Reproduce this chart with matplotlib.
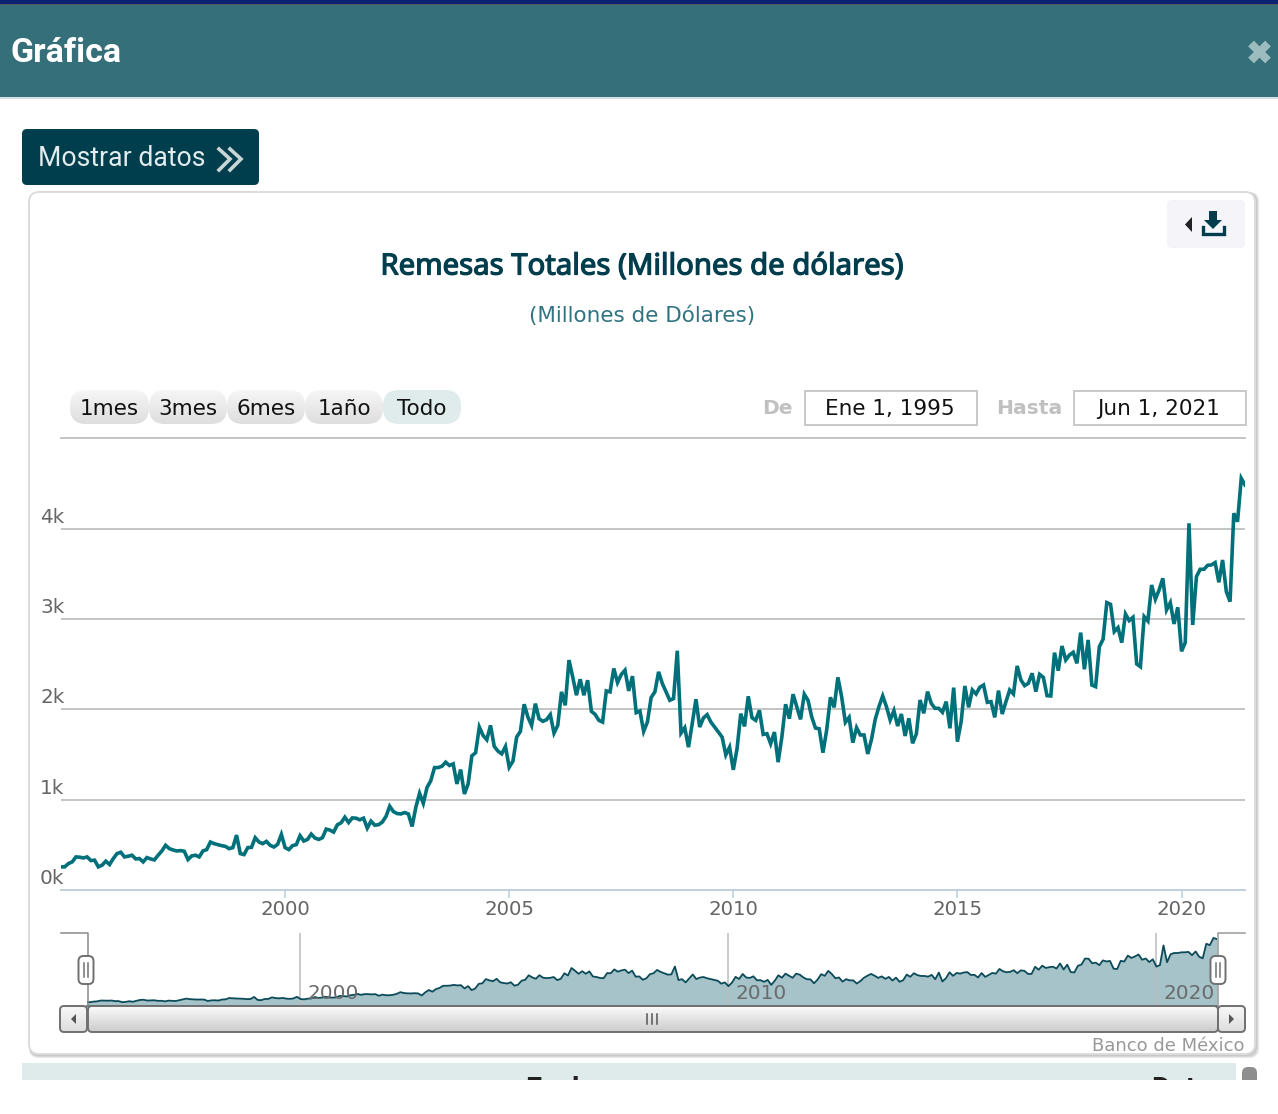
import numpy as np
import matplotlib
matplotlib.use("Agg")
import matplotlib.pyplot as plt
import matplotlib.patheffects as pe
from matplotlib.patches import FancyBboxPatch, Rectangle, Polygon

W, H = 1278, 1114

# monthly values, millones de dolares, Jan 1995 onwards
remesas_1995_2003 = [
    256, 256, 293, 311, 366, 363, 355, 366, 326, 330, 256, 275, 319, 282, 348, 403, 418, 366, 374, 385,
    344, 348, 311, 359, 344, 333, 385, 432, 495, 458, 443, 432, 436, 429, 337, 377, 385, 366, 432, 447,
    531, 513, 502, 491, 483, 458, 469, 608, 403, 392, 469, 472, 579, 531, 513, 538, 495, 476, 505, 615,
    469, 447, 491, 502, 601, 542, 560, 619, 575, 560, 579, 674, 663, 641, 722, 744, 806, 747, 798, 795,
    777, 795, 685, 762, 718, 722, 751, 813, 927, 868, 846, 842, 857, 842, 703, 916, 1070, 960, 1135, 1209,
    1355, 1355,
]
remesas_2003_2011 = [
    1370, 1415, 1378, 1396, 1174, 1333, 1063, 1174, 1485, 1519, 1804, 1711, 1663, 1822, 1589, 1537, 1507, 1589, 1359, 1426,
    1693, 1756, 2056, 1915, 1822, 2063, 1896, 1867, 1885, 1941, 1737, 1822, 2193, 2044, 2545, 2359, 2156, 2333, 2156, 2322,
    1978, 1944, 1878, 1859, 2204, 2193, 2452, 2296, 2385, 2433, 2204, 2367, 1963, 1981, 1756, 1859, 2130, 2193, 2415, 2285,
    2193, 2100, 2119, 2648, 1737, 1796, 1581, 1841, 2111, 1804, 1904, 1941, 1859, 1804, 1748, 1693, 1496, 1581, 1330, 1563,
    1952, 1811, 2144, 1907, 1878, 1989, 1722, 1730, 1619, 1748, 1415, 1693, 2056, 1896, 2167, 2026, 1889, 2167, 2100, 1915,
    1793, 1785,
]
remesas_2012_2021 = [
    1520, 1771, 2133, 2022, 2354, 2140, 1856, 1911, 1631, 1797, 1716, 1716, 1506, 1668, 1889, 2030, 2148, 2030, 1882, 1985,
    1815, 1948, 1705, 1900, 1624, 1727, 2103, 1956, 2196, 2066, 2011, 2011, 1967, 2085, 1790, 2240, 1642, 1863, 2258, 2022,
    2214, 2170, 2244, 2269, 2077, 2085, 1911, 2207, 1948, 2085, 2214, 2170, 2480, 2325, 2262, 2288, 2399, 2196, 2387, 2354,
    2151, 2148, 2627, 2428, 2701, 2546, 2601, 2631, 2509, 2849, 2443, 2768, 2269, 2251, 2694, 2775, 3181, 3162, 2860, 2904,
    2738, 3055, 2982, 3018, 2502, 2472, 3026, 2978, 3376, 3218, 3321, 3450, 3100, 3181, 2945, 3129, 2642, 2738, 4059, 2934,
    3469, 3550, 3550, 3594, 3598, 3624, 3406, 3653, 3303, 3192, 4170, 4077, 4557, 4483,
]
remesas = np.array(remesas_1995_2003 + remesas_2003_2011 + remesas_2012_2021)
fechas = 1995 + np.arange(len(remesas)) / 12

y_ticks = [0, 1000, 2000, 3000, 4000]
y_labels = ["0k", "1k", "2k", "3k", "4k"]
x_ticks = [2000, 2005, 2010, 2015, 2020]
nav_ticks = [2000, 2010, 2020]
rango_labels = ["1mes", "3mes", "6mes", "1año", "Todo"]

TEAL = "#00707a"
DARK = "#003d4d"
GREY = "#666666"
CHART_FONT = "DejaVu Sans"


def px_axes(l, t, r, b, **kw):
    return fig.add_axes([l / W, 1 - b / H, (r - l) / W, (b - t) / H], **kw)


def rbox(ax, x0, y0, x1, y1, rad, **kw):
    p = FancyBboxPatch((x0 + rad, y0 + rad), x1 - x0 - 2 * rad, y1 - y0 - 2 * rad,
                       boxstyle=f"round,pad={rad},rounding_size={rad}", **kw)
    ax.add_patch(p)
    return p


def grad_box(ax, x0, y0, x1, y1, rad, c_top, c_bot, edge="none", zorder=3):
    p = rbox(ax, x0, y0, x1, y1, rad, fc="none", ec=edge, lw=1.4, zorder=zorder + 0.1)
    t = np.array(matplotlib.colors.to_rgb(c_top))
    b = np.array(matplotlib.colors.to_rgb(c_bot))
    g = np.linspace(0, 1, 32)[:, None, None] * (b - t)[None, None, :] + t
    im = ax.imshow(g, extent=(x0, x1, y1, y0), aspect="auto", zorder=zorder, interpolation="bilinear")
    im.set_clip_path(p)
    return p


fig = plt.figure(figsize=(W / 100, H / 100), dpi=100, facecolor="white")

# page furniture in pixel coordinates
bg = px_axes(0, 0, W, H)
bg.axis("off")
bg.set_zorder(0)

bg.add_patch(Rectangle((0, 0), W, 4, fc="#0a2270", ec="none"))
bg.add_patch(Rectangle((0, 4), W, 2, fc="#555a60", ec="none"))
bg.add_patch(Rectangle((0, 5), W, 92, fc="#356f7a", ec="none"))
bg.add_patch(Rectangle((0, 97), W, 2, fc="#d4e0e6", ec="none"))
bg.text(11, 53, "Gráfica", color="white", family="Roboto", weight="bold", fontsize=24.5, va="center")
bg.plot([1251, 1268], [43.5, 60.5], color="#9dbcc0", lw=5.8, solid_capstyle="butt")
bg.plot([1251, 1268], [60.5, 43.5], color="#9dbcc0", lw=5.8, solid_capstyle="butt")

rbox(bg, 22, 129, 259, 185, 5, fc=DARK, ec="none")
bg.text(38, 159, "Mostrar datos", color="#e2ecec", family="Roboto", fontsize=19.2, va="center")
for dx in (0, 11):
    bg.plot(np.array([219, 230, 219]) + dx, [149, 159, 170], color="#c9d6d6", lw=2.6, solid_joinstyle="miter")

# card with a soft shadow
for off, c in ((4, "#e6e6e6"), (3, "#d8d8d8"), (2, "#c8c8c8")):
    rbox(bg, 29, 192, 1255 + off, 1054 + off, 10, fc=c, ec="none", zorder=1)
rbox(bg, 29, 192, 1255, 1054, 10, fc="white", ec="#dcdcdc", lw=1.4, zorder=1.1)

rbox(bg, 1167, 200, 1245, 248, 5, fc="#f4f4f9", ec="none", zorder=2)
bg.add_patch(Polygon([[1192, 217], [1192, 232], [1185, 224.5]], fc="#222222", ec="none", zorder=2.5))
bg.add_patch(Polygon([[1209, 211], [1217, 211], [1217, 220], [1222, 220], [1213, 229], [1204, 220], [1209, 220]],
                     fc=DARK, ec="none", zorder=2.5))
bg.plot([1202.5, 1202.5, 1223.5, 1223.5], [227, 234, 234, 227], color=DARK, lw=2.4, zorder=2.5,
        solid_joinstyle="miter")

titulo = bg.text(642.5, 267, "Remesas Totales (Millones de dólares)", color=DARK, family="Noto Sans",
                 fontsize=21.1, ha="center", va="center", zorder=3)
titulo.set_path_effects([pe.withStroke(linewidth=0.9, foreground=DARK)])
bg.text(642, 316, "(Millones de Dólares)", color="#2f7480", family=CHART_FONT, fontsize=15.5,
        ha="center", va="center", zorder=3)

# range selector
rango_edges = [70, 149, 227, 305, 383, 461]
for i, lab in enumerate(rango_labels):
    x0, x1 = rango_edges[i], rango_edges[i + 1]
    if lab == "Todo":
        rbox(bg, x0, 390, x1, 424, 16, fc="#e0ebeb", ec="none", zorder=3)
    else:
        grad_box(bg, x0, 390, x1, 424, 16, "#f6f6f6", "#dedede")
    bg.text((x0 + x1) / 2, 409, lab, color="#111111", family=CHART_FONT, fontsize=15.5, ha="center", va="center",
            zorder=4)

bg.text(777.5, 409, "De", color="#c0c0c0", weight="bold", family=CHART_FONT, fontsize=14.6, ha="center", va="center",
        zorder=3)
bg.text(1029.5, 409, "Hasta", color="#c0c0c0", weight="bold", family=CHART_FONT, fontsize=14.6, ha="center",
        va="center", zorder=3)
for x0, x1, lab in ((805, 977, "Ene 1, 1995"), (1074, 1246, "Jun 1, 2021")):
    bg.add_patch(Rectangle((x0, 390.5), x1 - x0, 34, fc="white", ec="#c8c8c8", lw=1.4, zorder=3))
    bg.text((x0 + x1) / 2 - 1, 409, lab, color="#111111", family=CHART_FONT, fontsize=15.5, ha="center",
            va="center", zorder=4)
bg.plot([61, 1245], [437.5, 437.5], color="#c4c4c4", lw=1.4, zorder=3)

bg.text(1245, 1046, "Banco de México", color="#999999", family=CHART_FONT, fontsize=13, ha="right", va="center",
        zorder=3)

# table header cut off by the bottom of the screenshot
bg.add_patch(Rectangle((22, 1063), 1214, 17, fc="#dfeaea", ec="none", zorder=3))
bg.text(525, 1076, "Fecha", color="#222222", family="Roboto", weight="bold", fontsize=21, va="top", zorder=4)
bg.text(1151, 1076, "Dato", color="#222222", family="Roboto", weight="bold", fontsize=21, va="top", zorder=4)
rbox(bg, 1242, 1067, 1257, 1090, 6, fc="#8e8e8e", ec="none", zorder=4)
bg.add_patch(Rectangle((0, 1080), W, 34, fc="white", ec="none", zorder=5))

# main chart
ax = px_axes(61, 455, 1245, 890)
ax.patch.set_alpha(0)
ax.set_zorder(2)
ax.plot(fechas, remesas, color=TEAL, lw=2.6, solid_joinstyle="miter", zorder=4)
ax.set_xlim(1995, 2021 + 5 / 12)
ax.set_ylim(0, 4815)
ax.set_yticks(y_ticks)
ax.set_yticklabels([])
ax.set_xticks(x_ticks)
ax.set_xticklabels([str(t) for t in x_ticks])
ax.tick_params(axis="x", length=6, width=1.2, color="#c0d0e0", labelcolor=GREY, labelsize=14.2, pad=1)
ax.tick_params(axis="y", length=0)
for lab in ax.get_xticklabels():
    lab.set_family(CHART_FONT)
for s in ("top", "left", "right"):
    ax.spines[s].set_visible(False)
ax.spines["bottom"].set_color("#c0d0e0")
ax.spines["bottom"].set_linewidth(1.4)
ax.grid(axis="y", color="#c4c4c4", lw=1.4, zorder=1)
ax.set_axisbelow(True)
for v, lab in zip(y_ticks, y_labels):
    ax.annotate(lab, (0, v), xycoords=("axes fraction", "data"), xytext=(2.5, 1.5), textcoords="offset points",
                ha="right", va="bottom", color=GREY, family=CHART_FONT, fontsize=14.4, zorder=5)

# navigator
nav = px_axes(86.5, 933, 1217, 1006)
nav.patch.set_alpha(0)
nav.set_zorder(2)
nav.fill_between(fechas, remesas, color="#a5c3c8", lw=0, zorder=2)
nav.plot(fechas, remesas, color="#0b4a58", lw=1.3, zorder=3)
nav.set_xlim(1995, 2021 + 5 / 12)
nav.set_ylim(0, 4890)
nav.set_yticks([])
nav.set_xticks(nav_ticks)
nav.set_xticklabels([])
nav.tick_params(axis="x", length=0)
nav.grid(axis="x", color="#bcbcbc", lw=1.1, zorder=3.5)
nav.set_axisbelow(False)
for s in ("top", "left", "right"):
    nav.spines[s].set_visible(False)
nav.spines["bottom"].set_color("#33606c")
nav.spines["bottom"].set_linewidth(1.2)
for t in nav_ticks:
    nav.annotate(str(t), (t, 0), xycoords=("data", "axes fraction"), xytext=(5, 2), textcoords="offset points",
                 ha="left", va="bottom", color="#6b6b6b", family=CHART_FONT, fontsize=14.4, zorder=6)

# scrollbar and handles on top of the chart
top = px_axes(0, 0, W, H)
top.axis("off")
top.patch.set_alpha(0)
top.set_zorder(3)

top.plot([61, 88, 88], [933, 933, 1006], color="#8a8a8a", lw=1.1)
top.plot([1218, 1218, 1245], [1006, 933, 933], color="#9a9a9a", lw=1.1)

grad_box(top, 88, 1006, 1218, 1032, 4, "#fbfbfb", "#cccccc", edge="#707070")
grad_box(top, 60, 1006, 87, 1032, 4, "#f8f8f8", "#dddddd", edge="#707070")
grad_box(top, 1218, 1006, 1245, 1032, 4, "#f8f8f8", "#dddddd", edge="#707070")
top.add_patch(Polygon([[76, 1014], [76, 1024], [71, 1019]], fc="#555555", ec="none", zorder=5))
top.add_patch(Polygon([[1229, 1014], [1229, 1024], [1234, 1019]], fc="#555555", ec="none", zorder=5))
for x in (646.5, 651.5, 656.5):
    top.plot([x, x], [1014, 1024], color="#555555", lw=1.1, zorder=5)

for cx in (86, 1218):
    rbox(top, cx - 7.5, 956, cx + 7.5, 984, 5, fc="white", ec="#707070", lw=1.4, zorder=6)
    for dx in (-2, 2):
        top.plot([cx + dx, cx + dx], [963, 977], color="#707070", lw=1.1, zorder=7)

# imshow and plot rescale the pixel axes, so pin them last
for a in (bg, top):
    a.set_xlim(0, W)
    a.set_ylim(H, 0)
    a.set_aspect("auto")

fig.savefig("out.png", dpi=100)
